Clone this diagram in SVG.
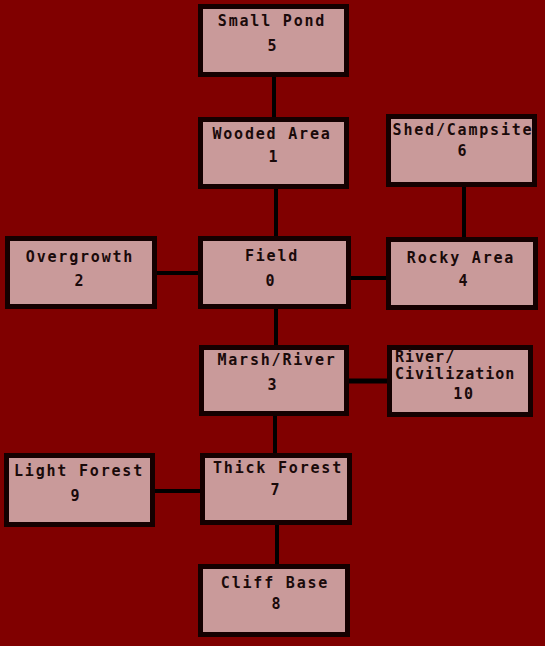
<svg xmlns="http://www.w3.org/2000/svg" width="545" height="646" viewBox="0 0 545 646">
<style>
.box{fill:#c99a9a;stroke:#140000;stroke-width:5}
.t{font-family:"DejaVu Sans Mono","Liberation Mono",monospace;font-size:15px;font-weight:bold;fill:#1a0a0a;text-anchor:middle;letter-spacing:1.8px}
.tl{text-anchor:start;letter-spacing:1px}
.c{stroke:#000;stroke-width:4;fill:none}
</style>
<rect width="545" height="646" fill="#800000"/>
<g id="connectors">
<line class="c" x1="274" y1="77" x2="274" y2="117"/>
<line class="c" x1="276" y1="189" x2="276" y2="236"/>
<line class="c" x1="464" y1="184" x2="464" y2="238"/>
<line class="c" x1="157" y1="273" x2="198" y2="273"/>
<line class="c" x1="351" y1="278" x2="386" y2="278"/>
<line class="c" x1="276" y1="309" x2="276" y2="345"/>
<line class="c" x1="349" y1="381" x2="387" y2="381" style="stroke-width:5"/>
<line class="c" x1="275" y1="416" x2="275" y2="453"/>
<line class="c" x1="152" y1="491" x2="200" y2="491"/>
<line class="c" x1="277" y1="525" x2="277" y2="564"/>
</g>
<g id="n5"><rect class="box" x="200.5" y="6.5" width="146" height="68"/><text class="t" x="272" y="26">Small Pond</text><text class="t" x="273" y="51">5</text></g>
<g id="n1"><rect class="box" x="200.5" y="119.5" width="146" height="67"/><text class="t" x="272" y="139">Wooded Area</text><text class="t" x="274" y="162">1</text></g>
<g id="n6"><rect class="box" x="388.5" y="116.5" width="146" height="68"/><text class="t" x="463" y="135">Shed/Campsite</text><text class="t" x="463" y="156">6</text></g>
<g id="n2"><rect class="box" x="7.5" y="238.5" width="147" height="68"/><text class="t" x="80" y="262">Overgrowth</text><text class="t" x="80" y="286">2</text></g>
<g id="n0"><rect class="box" x="200.5" y="238.5" width="148" height="68"/><text class="t" x="272" y="261">Field</text><text class="t" x="271" y="286">0</text></g>
<g id="n4"><rect class="box" x="388.5" y="239.5" width="147" height="68"/><text class="t" x="461" y="263">Rocky Area</text><text class="t" x="464" y="286">4</text></g>
<g id="n3"><rect class="box" x="201.5" y="347.5" width="145" height="66"/><text class="t" x="277" y="365">Marsh/River</text><text class="t" x="273" y="390">3</text></g>
<g id="n10"><rect class="box" x="389.5" y="347.5" width="141" height="67"/><text class="t tl" x="395" y="362">River/</text><text class="t tl" x="395" y="379">Civilization</text><text class="t" x="464" y="399">10</text></g>
<g id="n9"><rect class="box" x="6.5" y="455.5" width="146" height="69"/><text class="t" x="79" y="476">Light Forest</text><text class="t" x="76" y="501">9</text></g>
<g id="n7"><rect class="box" x="202.5" y="455.5" width="147" height="67"/><text class="t" x="278" y="473">Thick Forest</text><text class="t" x="276" y="495">7</text></g>
<g id="n8"><rect class="box" x="200.5" y="566.5" width="147" height="68"/><text class="t" x="275" y="588">Cliff Base</text><text class="t" x="277" y="609">8</text></g>
</svg>
